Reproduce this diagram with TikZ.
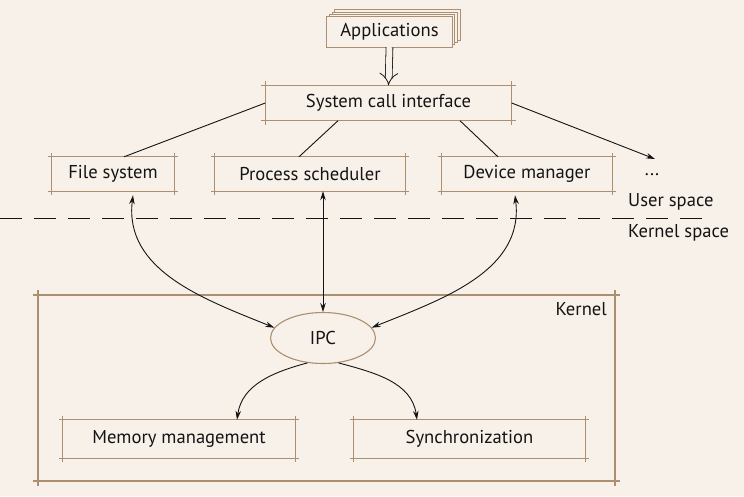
\documentclass[tikz,border=0pt]{standalone}
\usepackage{fontspec}
\setmainfont{PT Sans}
\usetikzlibrary{arrows.meta,shapes.geometric,calc}
\definecolor{bgc}{RGB}{248,241,234}
\definecolor{boxc}{RGB}{172,142,112}
\definecolor{ink}{RGB}{20,20,20}
\pgfdeclarelayer{back}
\pgfsetlayers{back,main}
\newcommand\skbox[2][4]{%
  \draw[boxline] ($(#2.north west)+(-#1,0)$) -- ($(#2.north east)+(#1,0)$);
  \draw[boxline] ($(#2.south west)+(-#1,0)$) -- ($(#2.south east)+(#1,0)$);
  \draw[boxline] ($(#2.north west)+(0,-#1)$) -- ($(#2.south west)+(0,#1)$);
  \draw[boxline] ($(#2.north east)+(0,-#1)$) -- ($(#2.south east)+(0,#1)$);
}
\begin{document}
\begin{tikzpicture}[x=1pt,y=-1pt,
  font=\fontsize{18.6}{22}\selectfont,
  blk/.style={rectangle, inner sep=0pt, text=ink},
  lbl/.style={inner sep=0pt, text=ink},
  boxline/.style={draw=boxc, line width=1.1pt},
  conn/.style={draw=ink, line width=0.9pt},
  tipend/.style={-{Stealth[length=9pt,width=5.5pt]}},
  tipboth/.style={{Stealth[length=9pt,width=5.5pt]}-{Stealth[length=9pt,width=5.5pt]}}]
\begin{pgfonlayer}{back}
\fill[bgc] (0,0) rectangle (744,496);
\end{pgfonlayer}
\useasboundingbox (0,0) rectangle (744,496);

% nodes
\node[blk, minimum width=125pt, minimum height=30pt] (app) at (389.5,32) {Applications};
\node[blk, minimum width=246pt, minimum height=35pt] (sci) at (388.5,103) {System call interface};
\node[blk, minimum width=122pt, minimum height=34pt] (fs) at (113,174) {File system};
\node[blk, minimum width=190pt, minimum height=34pt] (ps) at (310,174) {Process scheduler};
\node[blk, minimum width=170pt, minimum height=34pt] (dm) at (527,174) {Device manager};
\node[lbl] (dots) at (652,175) {...};
\coordinate (etc) at (655,159);
\node[lbl, anchor=west] (us) at (628,202) {User space};
\node[lbl, anchor=west] (ks) at (628,233) {Kernel space};
\node[blk, minimum width=577pt, minimum height=186pt] (kern) at (326.5,388) {};
\node[lbl, anchor=east] (klbl) at (607,309) {Kernel};
\node[ellipse, draw=boxc, line width=1.1pt, fill=bgc, inner sep=0pt,
      minimum width=105pt, minimum height=51pt, text=ink] (ipc) at (323,338) {IPC};
\node[blk, minimum width=232pt, minimum height=38pt] (mm) at (179,439) {Memory management};
\node[blk, minimum width=231pt, minimum height=38pt] (sync) at (469.5,439) {Synchronization};

% stacked applications box
\begin{pgfonlayer}{back}
  \foreach \d in {8,5.3,2.7}{
    \draw[boxline, fill=bgc] ($(app.north west)+(\d,-0.87*\d)$) rectangle ($(app.south east)+(\d,-0.87*\d)$);
  }
  \draw[boxline, fill=bgc] (app.north west) rectangle (app.south east);
\end{pgfonlayer}

% sketch boxes
\skbox{sci}
\skbox{fs}
\skbox{ps}
\skbox{dm}
\skbox{mm}
\skbox{sync}
\begin{scope}[boxline/.append style={line width=1.5pt}]
\skbox[5]{kern}
\end{scope}

% double arrow
\draw[draw=ink, line width=0.8pt, double=bgc, double distance=6pt, -{Implies}]
  (app.south) -- (sci.north);

% dashed separator
\coordinate (dl) at (0,218);
\coordinate (dr) at (710,218);
\draw[ink, line width=0.9pt, dash pattern=on 22pt off 12pt] (dl) -- (dr);

% connectors from system call interface
\draw[conn] (sci.west) -- ($(fs.north)+(11,0)$);
\draw[conn] ($(sci.south)+(-50.5,0)$) -- ($(ps.north)+(-11,0)$);
\draw[conn] ($(sci.south)+(71.5,0)$) -- ($(dm.north)+(-29,0)$);
\draw[conn, tipend] (sci.east) -- (etc);

% to IPC
\draw[conn, tipboth] ($(fs.south)+(20,4)$) to[out=-97, in=158] (ipc.168);
\draw[conn, tipboth] ($(ps.south)+(13,0)$) -- (ipc.north);
\draw[conn, tipboth] ($(dm.south)+(-12,4)$) to[out=-83, in=22] (ipc.12);

% from IPC
\draw[conn, tipend] (ipc.238) to[out=195, in=82] ($(mm.north)+(58,0)$);
\draw[conn, tipend] (ipc.302) to[out=-15, in=98] ($(sync.north)+(-52.5,0)$);
\end{tikzpicture}
\end{document}
